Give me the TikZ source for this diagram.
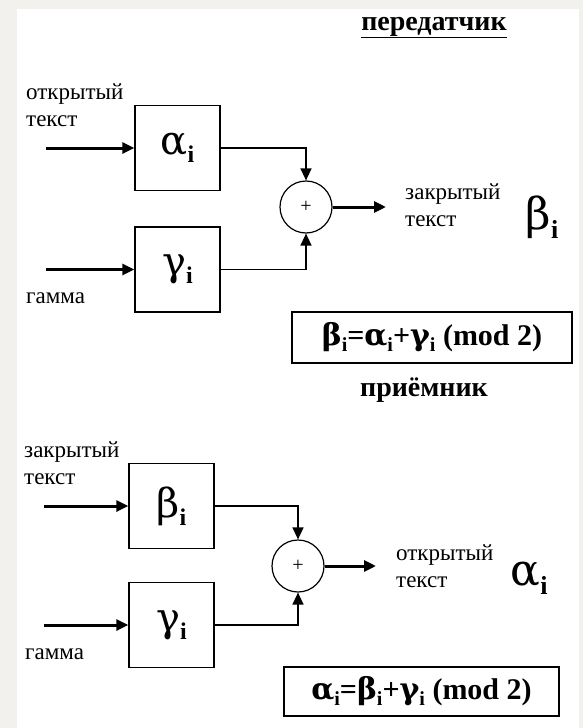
\documentclass[tikz,border=0pt]{standalone}
\usepackage{fontspec}
\setmainfont{Liberation Serif}
\newfontfamily\grk{DejaVu Serif}
\usetikzlibrary{arrows.meta,positioning}
\definecolor{Slide}{HTML}{F2F1ED}
\newcommand{\subi}[1]{\raisebox{-0.2em}{\fontsize{#1}{#1}\selectfont\bfseries i}}
\tikzset{
    every node/.style={inner sep=0pt},
    keybox/.style={
        draw, line width=1.4pt,
        minimum width=85pt, minimum height=85pt,
        font=\fontsize{40}{40}\selectfont
    },
    xorcirc/.style={
        draw, circle, line width=1.2pt, minimum size=52pt,
        font=\fontsize{20}{20}\selectfont
    },
    inarrow/.style={
        -{Triangle[length=12pt,width=11pt]}, line width=3pt
    },
    sumline/.style={
        -{Triangle[length=12pt,width=11pt]}, line width=1.4pt
    },
    txtlabel/.style={align=left, font=\fontsize{23}{27}\selectfont},
    bigsym/.style={font=\fontsize{44}{44}\selectfont},
    titletxt/.style={font=\fontsize{28}{28}\selectfont\bfseries},
    formula/.style={
        draw, line width=1.4pt,
        font=\fontsize{30}{30}\selectfont\bfseries
    },
}

\begin{document}
\begin{tikzpicture}[x=1pt,y=-1pt]
    % Slide background
    \fill[Slide] (0,0) rectangle (583,728);
    \fill[white] (17,9) rectangle (579,728);
    \useasboundingbox (0,0) rectangle (583,728);

    % Transmitter
    \node[titletxt, anchor=base] (txtitle) at (434,30) {\underline{передатчик}};
    \node[keybox] (alpha) at (177.5,148) {{\grk α}\subi{24}};
    \node[keybox] (gammaT) at (177.5,269.5) {{\grk γ}\subi{24}};
    \node[xorcirc] (sumT) at (306,207) {+};
    \node[txtlabel, anchor=north west] (plainin) at (26,84) {открытый\\текст};
    \node[txtlabel, anchor=north west] (gamin) at (26,293) {гамма};
    \node[txtlabel, anchor=north west] (cipherout) at (405,184) {закрытый\\текст};
    \node[bigsym] (betaout) at (542,217) {{\grk β}\subi{26}};
    \node[formula, minimum width=280pt, minimum height=51pt] (eqT) at (432,337.5)
        {{\grk β}\subi{20}={\grk α}\subi{20}+{\grk γ}\subi{20} (mod 2)};
    \coordinate (inA) at (46,148);
    \coordinate (inG) at (46,269.5);
    \coordinate (outT) at (386,207);

    % Receiver
    \node[titletxt, anchor=base] (rxtitle) at (424,396) {приёмник};
    \node[keybox] (beta) at (171.5,506) {{\grk β}\subi{24}};
    \node[keybox] (gammaR) at (171.5,625) {{\grk γ}\subi{24}};
    \node[xorcirc] (sumR) at (298,566) {+};
    \node[txtlabel, anchor=north west] (cipherin) at (24,442) {закрытый\\текст};
    \node[txtlabel, anchor=north west] (gamin2) at (25,648) {гамма};
    \node[txtlabel, anchor=north west] (plainout) at (396,545) {открытый\\текст};
    \node[bigsym] (alphaout) at (529,578) {{\grk α}\subi{26}};
    \node[formula, minimum width=275pt, minimum height=49pt] (eqR) at (421.5,691.5)
        {{\grk α}\subi{20}={\grk β}\subi{20}+{\grk γ}\subi{20} (mod 2)};
    \coordinate (inB) at (44,506);
    \coordinate (inG2) at (44,625);
    \coordinate (outR) at (376,566);

    % Arrows
    \draw[inarrow] (inA) -- (alpha.west);
    \draw[inarrow] (inG) -- (gammaT.west);
    \draw[sumline] (alpha.east) -| (sumT.north);
    \draw[sumline] (gammaT.east) -| (sumT.south);
    \draw[inarrow] (sumT.east) -- (outT);

    \draw[inarrow] (inB) -- (beta.west);
    \draw[inarrow] (inG2) -- (gammaR.west);
    \draw[sumline] (beta.east) -| (sumR.north);
    \draw[sumline] (gammaR.east) -| (sumR.south);
    \draw[inarrow] (sumR.east) -- (outR);
\end{tikzpicture}
\end{document}
